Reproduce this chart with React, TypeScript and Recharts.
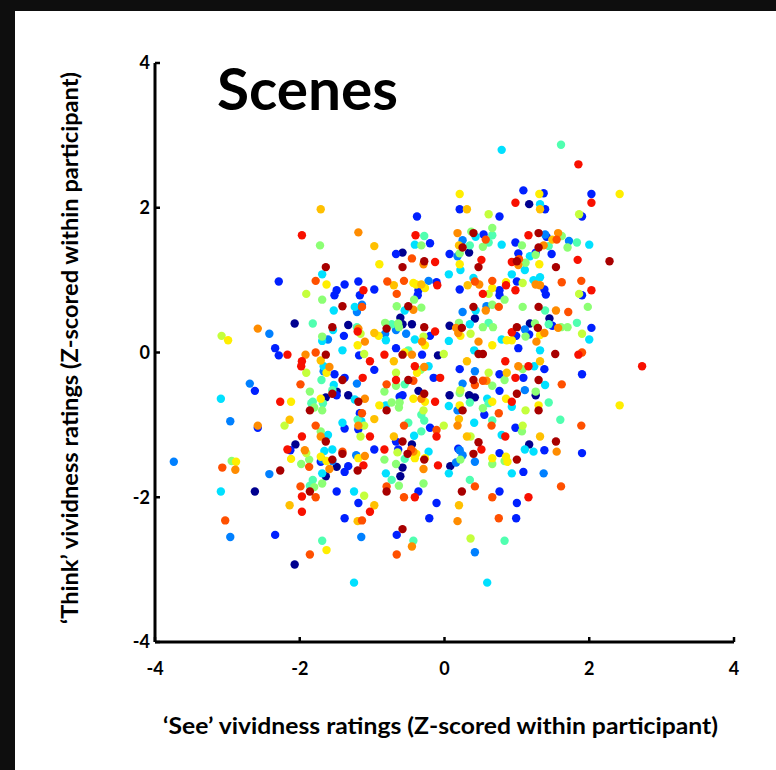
import React from 'react';
import { ScatterChart, Scatter, XAxis, YAxis, Label } from 'recharts';

const xTicks = [-4, -2, 0, 2, 4];
const yTicks = [-4, -2, 0, 2, 4];
const titleText = 'Scenes';
const xLabelText = '\u2018See\u2019 vividness ratings (Z-scored within participant)';
const yLabelText = '\u2018Think\u2019 vividness ratings (Z-scored within participant)';

const navy: number[][] = [
  [-0.58, 1.38], [-0.61, 0.48], [-2.07, 0.4], [-1.33, 0.38], [-0.58, 0.39], [-0.45, 0.39], [-0.09, -0.04],
  [1.17, 2.05], [0.34, 1.38], [0.42, 0.47], [1.45, 0.47], [0.07, 0.37], [1.18, 0.4],
  [-1.49, -0.54], [-1.64, -0.62], [-1.33, -0.59], [-0.36, -0.53], [-0.45, -1.27], [-2.06, -1.27], [-1.49, -1.58],
  [-0.58, -1.59], [-1.64, -1.71], [-0.61, -1.71],
  [0.07, -0.59], [0.34, -0.59], [0.42, -0.62], [1.26, -0.59], [1.17, -1.27], [0.08, -1.57],
  [-2.62, -1.92], [-2.07, -2.93],
];

const blue: number[][] = [
  [-0.38, 1.88], [-0.2, 1.51], [-0.67, 1.36], [-2.29, 0.98], [-1.38, 0.94], [-1.19, 0.98], [-0.11, 0.97],
  [-0.36, 0.86], [-0.37, 0.79], [-0.97, 0.87], [-1.49, 0.86], [-1.52, 0.79], [-1.17, 0.79], [-1.39, 0.23],
  [-0.2, 0.23], [-2.34, 0.06], [-0.67, 0.06], [-2.29, -0.04], [-1.18, -0.04], [-0.31, -0.03],
  [1.39, 1.98], [0.21, 1.98], [0.76, 1.88], [1.9, 1.88], [0.54, 1.63], [0.98, 1.52], [1.41, 1.6], [0.07, 1.36],
  [1.02, 1.37], [1.26, 1.38], [1.48, 1.36], [1.0, 0.98], [0.21, 0.87], [0.76, 0.86], [1.38, 0.87], [1.4, 0.8],
  [1.9, 0.79], [0.76, 0.79], [1.49, 0.37], [2.03, 0.34], [0.99, 0.23], [1.17, 0.25], [1.02, 0.06],
  [-1.52, -0.3], [-0.97, -0.24], [-0.15, -0.35], [-1.38, -0.35], [-1.49, -0.59], [-0.62, -0.61], [-0.58, -0.59],
  [-1.17, -0.84], [-1.19, -1.06], [-1.38, -1.05], [-0.2, -1.04], [-0.67, -1.23], [-2.13, -1.35], [-0.97, -1.34],
  [-0.64, -1.34], [-1.71, -1.51], [-1.33, -1.57], [-1.38, -1.65], [-0.36, -1.92], [-1.49, -1.92], [-1.19, -2.08],
  [-0.11, -2.08], [-1.38, -2.29], [-0.21, -2.29],
  [1.38, -0.23], [0.21, -0.23], [0.76, -0.3], [1.09, -0.35], [1.9, -0.3], [0.76, -0.53], [0.55, -0.86],
  [0.98, -1.04], [1.38, -1.35], [1.9, -1.39], [0.19, -1.33], [0.76, -1.39], [1.09, -1.65], [0.76, -1.92],
  [1.0, -2.08], [0.99, -2.29],
  [1.09, 2.24], [1.37, 2.2], [2.03, 2.19], [-2.62, -0.53], [-2.58, -1.04], [-2.34, -2.52], [-0.66, -2.52],
];

const azure: number[][] = [
  [-0.22, 0.99], [-1.14, 0.66], [-1.21, 0.56], [-2.42, 0.26], [-0.82, 0.26], [-0.67, 0.31], [-0.53, 0.26], [-1.61, 0.18],
  [0.25, 1.55], [1.39, 1.63], [1.72, 1.54], [0.18, 1.33], [0.58, 0.64], [0.25, 0.56], [1.11, 0.32],
  [-1.67, -0.26], [-1.21, -0.43], [-1.22, -1.42], [-1.69, -1.48], [-1.55, -1.5], [-2.42, -1.68],
  [0.42, -0.26], [0.25, -0.43], [1.11, -0.52], [0.18, -0.8], [0.21, -1.35], [0.25, -1.42], [0.16, -1.52],
  [0.42, -1.51], [1.37, -1.67],
  [0.42, -2.76], [-2.69, -0.43], [-2.96, -0.95], [-3.74, -1.51], [-2.96, -2.55], [-1.15, -2.55],
];

const cyan: number[][] = [
  [-0.41, 1.49], [-1.69, 1.08], [-1.24, 0.63], [-1.53, 0.58], [-0.55, 0.58], [-1.54, 0.31], [-1.69, 0.16],
  [-0.81, 0.17], [-0.41, 0.18], [-1.41, 0.03],
  [1.32, 2.05], [0.43, 1.6], [0.79, 1.49], [2.0, 1.49], [1.18, 1.33], [0.22, 1.14], [1.11, 1.14], [0.06, 1.08],
  [0.93, 1.08], [0.4, 1.03], [1.23, 1.0], [1.32, 1.04], [0.43, 0.58], [0.35, 0.39], [0.06, 0.16], [0.79, 0.18],
  [2.0, 0.18], [0.41, 0.03], [1.32, 0.03],
  [-1.67, -0.19], [-0.22, -0.19], [-1.53, -0.45], [-1.24, -0.65], [-0.81, -0.73], [-1.15, -0.95], [-1.41, -0.97],
  [-1.61, -1.14], [-0.42, -1.15], [-1.66, -1.36], [-1.55, -1.34], [-0.22, -1.37], [-1.69, -1.67], [-0.81, -1.67],
  [-1.25, -1.92],
  [1.24, -0.19], [1.39, -0.45], [0.59, -0.64], [0.06, -0.74], [0.93, -0.75], [0.41, -0.97], [0.79, -1.14],
  [1.11, -1.34], [1.23, -1.37], [0.06, -1.67], [0.93, -1.67],
  [0.79, 2.8], [0.59, -3.18], [-3.09, -0.64], [-3.09, -1.92], [-1.25, -3.18],
];

const aqua: number[][] = [
  [-0.28, 1.61], [-1.82, 0.4], [-1.21, 0.35], [-0.73, 0.39], [-0.5, 0.03],
  [0.66, 1.62], [0.61, 1.52], [0.35, 1.48], [1.44, 1.47], [1.83, 1.52], [1.39, 0.58], [0.61, 0.41], [1.44, 0.39], [1.83, 0.41],
  [-1.7, -0.38], [-0.55, -0.44], [-1.55, -0.52], [-1.82, -0.68], [-1.84, -0.7], [-1.68, -0.7], [-0.32, -0.86],
  [-0.28, -0.94], [-1.2, -0.93], [-0.5, -0.97], [-0.32, -1.09], [-0.55, -1.47], [-1.82, -1.76], [-1.86, -1.84], [-0.73, -1.76],
  [0.35, -0.69], [0.61, -0.7], [1.44, -0.69], [0.66, -0.94], [1.6, -0.93], [0.35, -1.76],
  [1.61, 2.87], [-0.43, -2.6], [0.83, -2.6], [-1.69, -2.6],
];

const lightGreen: number[][] = [
  [-1.72, 1.48], [-0.32, 1.48], [-1.69, 0.73], [-0.42, 0.73], [-0.66, 0.64], [-0.32, 0.62], [-0.82, 0.41],
  [-0.64, 0.4], [-1.69, 0.22], [-0.63, 0.35],
  [0.66, 1.72], [0.37, 1.67], [0.53, 1.46], [1.62, 1.61], [1.07, 1.48], [1.7, 1.45], [0.21, 1.37], [1.26, 1.35],
  [1.12, 1.24], [0.83, 0.73], [0.66, 0.66], [1.08, 0.63], [1.98, 0.63], [0.2, 0.41], [0.53, 0.35], [0.67, 0.35],
  [1.25, 0.4], [1.61, 0.35], [1.7, 0.35], [1.12, 0.22],
  [-0.33, -0.24], [-0.67, -0.46], [-1.86, -0.54], [-0.83, -0.54], [-1.8, -0.76], [-1.69, -0.8], [-0.73, -0.69],
  [-0.62, -0.69], [-0.63, -0.76], [-1.71, -1.09], [-1.87, -1.48], [-0.83, -1.48], [-1.98, -1.54], [-0.67, -1.54],
  [-1.8, -1.86], [-1.69, -1.81], [-0.63, -1.84], [-0.29, -1.81],
  [1.08, -0.23], [0.66, -0.46], [0.83, -0.38], [0.21, -0.56], [1.26, -0.54], [0.53, -0.77], [1.07, -1.09],
  [0.22, -1.48], [0.66, -1.54], [0.83, -1.5],
  [-2.94, -1.5],
];

const yellowGreen: number[][] = [
  [-1.91, 0.81], [-1.16, 0.26], [-0.29, 0.22], [-1.11, -0.02],
  [0.61, 1.91], [1.86, 1.91], [1.08, 0.96], [0.61, 0.81], [1.86, 0.81], [0.36, 0.26], [1.9, 0.26], [-0.01, -0.02],
  [-1.91, -0.28], [-0.67, -0.28], [-0.29, -0.8], [-1.11, -1.01], [-2.21, -1.01], [-1.16, -1.16], [-1.91, -1.39],
  [-0.65, -1.38], [-1.11, -1.98],
  [0.61, -0.28], [0.22, -0.52], [1.12, -0.8], [-0.01, -1.01], [1.08, -1.01], [0.36, -1.16],
  [-3.08, 0.23], [0.36, -2.57],
];

const yellow: number[][] = [
  [-0.9, 1.22], [-1.63, 0.94], [-0.43, 0.96], [-0.39, 0.94], [-0.27, 0.89], [-0.91, 0.23], [-1.2, 0.1],
  [-0.27, 0.1], [-0.55, 0.0],
  [1.31, 1.22], [0.21, 1.22], [0.85, 0.97], [0.66, 0.89], [0.22, 0.23], [1.32, 0.24], [0.86, 0.17], [0.93, 0.17], [0.66, 0.1],
  [-1.63, -0.28], [-0.38, -0.28], [-1.71, -0.64], [-2.12, -0.68], [-0.9, -0.73], [-0.43, -0.64], [-0.27, -0.68],
  [-1.19, -1.46], [-0.39, -1.4], [-0.41, -1.46], [-0.27, -1.46], [-2.12, -1.47], [-1.71, -1.44], [-1.63, -1.5],
  [0.66, -0.68], [0.85, -0.64], [0.21, -0.73], [1.3, -0.73], [0.66, -1.46], [0.85, -1.44], [0.87, -1.51],
  [-2.99, 0.17], [0.21, 2.19], [1.31, 2.19], [2.42, 2.19], [2.42, -0.73], [-2.88, -1.51], [-1.63, -2.73],
];

const amber: number[][] = [
  [-1.71, 1.98], [-0.97, 1.47], [-0.7, 0.93], [-0.32, 0.94], [-0.97, 0.27],
  [1.32, 1.98], [0.31, 1.98], [0.2, 1.48], [1.49, 1.56], [0.32, 0.93],
  [-1.71, -0.11], [-0.7, -0.12], [-0.97, -0.92], [-2.14, -0.93], [-0.7, -1.16], [-0.97, -2.11], [-2.14, -2.11],
  [0.31, -0.12], [1.32, -0.12], [0.86, -0.28], [0.2, -0.92], [0.31, -1.16], [1.32, -1.16], [0.2, -2.11],
  [-1.2, -2.33],
];

const orange: number[][] = [
  [-1.19, 1.66], [-0.29, 1.22], [-0.43, 0.59], [-1.19, 0.33], [-0.31, 0.15], [-1.1, 0.15], [-1.92, -0.03], [-0.45, -0.03],
  [0.18, 1.65], [1.57, 1.65], [1.37, 1.48], [1.02, 1.21], [0.48, 0.94], [1.26, 0.94], [1.32, 0.93], [0.57, 0.58],
  [1.54, 0.58], [0.16, 0.34], [1.57, 0.34], [0.19, 0.27], [1.38, 0.27], [0.47, 0.15], [1.27, 0.15],
  [-1.59, -0.2], [-0.28, -0.2], [-1.1, -0.64], [-0.32, -0.64], [-1.19, -1.01], [-1.71, -1.16], [-1.93, -1.35],
  [-1.1, -1.43], [-0.43, -1.37], [-1.59, -1.61], [-0.29, -1.61],
  [1.02, -0.19], [0.58, -0.39], [0.18, -1.01], [1.55, -1.37],
  [-2.58, 0.33], [0.18, -2.33], [-0.45, -2.68], [-2.58, -1.01], [-2.89, -1.62],
];

const orangeRed: number[][] = [
  [-0.45, 1.3], [-1.78, 0.99], [-0.79, 0.98], [-0.56, 0.99], [-0.66, 0.81], [-1.14, 0.63], [-1.78, 0.0],
  [0.57, 1.56], [1.55, 1.56], [1.03, 1.29], [0.42, 0.98], [0.66, 0.99], [1.62, 0.97], [1.89, 0.99], [0.75, 0.63],
  [1.71, 0.56], [1.9, 0.0],
  [-1.99, -0.44], [-0.8, -0.44], [-0.43, -0.39], [-1.14, -0.84], [-1.78, -1.01], [-0.56, -1.01], [-0.11, -1.07],
  [-1.41, -1.37], [-0.46, -1.34], [-1.87, -1.58], [-1.99, -1.85], [-0.8, -1.85], [-1.78, -2.0], [-0.56, -2.0],
  [0.53, -0.39], [0.42, -0.45], [1.62, -0.44], [0.75, -0.84], [0.65, -1.01], [1.89, -1.01], [0.42, -1.85],
  [1.61, -1.85], [0.66, -2.0], [0.75, -2.29],
  [-3.07, -1.59], [-3.03, -2.32], [-1.14, -2.32], [-1.86, -2.79], [-0.66, -2.79],
];

const red: number[][] = [
  [-1.97, 1.62], [-0.4, 1.62], [-0.13, 1.25], [-0.1, 0.93], [-1.12, 0.86], [-1.2, 0.29], [-0.13, 0.29],
  [-2.17, -0.03], [-0.83, -0.03],
  [0.98, 2.07], [2.03, 2.07], [1.16, 1.62], [0.51, 1.28], [0.93, 1.25], [1.84, 1.28], [0.85, 0.93], [0.53, 0.81],
  [0.98, 0.86], [2.03, 0.86], [0.93, 0.28], [1.85, -0.03],
  [-1.97, -0.12], [-1.03, -0.12], [-1.98, -0.19], [-0.41, -0.19], [-1.13, -0.35], [-0.67, -0.38], [-2.27, -0.68],
  [-0.13, -0.68], [-1.97, -1.16], [-1.03, -1.16], [-0.11, -1.16], [-2.17, -1.34], [-0.83, -1.34], [-1.12, -1.56],
  [-0.09, -1.56], [-1.97, -1.99], [-0.41, -2.0], [-1.97, -2.2], [-1.03, -2.2],
  [0.84, -0.12], [1.16, -0.19], [-0.06, -0.35], [0.98, -0.35], [0.93, -0.68], [0.84, -1.16], [0.51, -1.34], [1.16, -2.0],
  [1.85, 2.6], [2.73, -0.19],
];

const darkRed: number[][] = [
  [-0.28, 1.26], [-1.64, 1.18], [-0.58, 1.18], [-1.41, 0.64], [-0.5, 0.64], [-1.55, 0.35], [-0.8, 0.33],
  [-0.28, 0.35], [-1.64, -0.03], [-0.58, -0.03],
  [0.4, 1.65], [0.25, 1.45], [1.3, 1.65], [1.3, 1.45], [1.0, 1.26], [2.28, 1.26], [0.47, 1.18], [1.54, 1.18],
  [0.4, 0.63], [1.3, 0.63], [0.24, 0.34], [1.0, 0.35], [1.29, 0.34], [0.47, -0.02], [0.53, -0.02], [1.53, -0.02],
  [-1.41, -0.38], [-0.5, -0.38], [-1.55, -0.57], [-0.28, -0.57], [-1.86, -0.8], [-1.19, -0.68], [-0.8, -0.8],
  [-1.64, -1.23], [-0.58, -1.23], [-1.55, -1.48], [-1.41, -1.4], [-0.51, -1.4], [-0.28, -1.48], [-1.2, -1.63],
  [-2.27, -1.63], [-1.86, -1.92], [-0.8, -1.92],
  [0.4, -0.38], [1.3, -0.38], [1.0, -0.57], [0.25, -0.8], [1.3, -0.8], [0.47, -1.24], [1.54, -1.23],
  [0.4, -1.4], [1.0, -1.48], [0.24, -1.92],
  [-0.58, -2.44],
];

const seriesList = [
  { name: 'p1', color: '#00008F', pts: navy },
  { name: 'p2', color: '#0020FF', pts: blue },
  { name: 'p3', color: '#0080FF', pts: azure },
  { name: 'p4', color: '#00E0FF', pts: cyan },
  { name: 'p5', color: '#50FFB0', pts: aqua },
  { name: 'p6', color: '#8CFF74', pts: lightGreen },
  { name: 'p7', color: '#C4FF3C', pts: yellowGreen },
  { name: 'p8', color: '#FFEE00', pts: yellow },
  { name: 'p9', color: '#FFC000', pts: amber },
  { name: 'p10', color: '#FF8C00', pts: orange },
  { name: 'p11', color: '#FF5000', pts: orangeRed },
  { name: 'p12', color: '#F81000', pts: red },
  { name: 'p13', color: '#A80000', pts: darkRed },
];

const FONT = 'Lato, "Open Sans", sans-serif';

const makeDot = (color: string) => (props: any) => {
  const { cx, cy } = props;
  if (cx == null || cy == null) return <g />;
  return <circle cx={cx} cy={cy} r={4.2} fill={color} />;
};

export default function App() {
  return (
    <div style={{ position: 'fixed', left: 0, top: 0, width: 776, height: 770, background: '#ffffff', overflow: 'hidden' }}>
      <style>{'html,body{margin:0;padding:0;overflow:hidden;background:#ffffff;}'}</style>
      <div style={{ position: 'absolute', left: 0, top: 0, width: 15, height: 770, background: '#0e0e0e' }} />
      <div style={{ position: 'absolute', left: 0, top: 0, width: 776, height: 11, background: '#0e0e0e' }} />
      <div style={{ position: 'absolute', left: 0, top: 0 }}>
        <ScatterChart width={776} height={770} margin={{ top: 63, right: 42, bottom: 98, left: 95 }}>
          <XAxis
            type="number"
            dataKey="x"
            domain={[-4, 4]}
            ticks={xTicks}
            interval={0}
            height={30}
            axisLine={{ stroke: '#000', strokeWidth: 3 }}
            tickLine={{ stroke: '#000', strokeWidth: 2.5 }}
            tickSize={-5}
            tickMargin={25}
            tick={{ fill: '#000', fontSize: 18, fontWeight: 700, fontFamily: FONT }}
          >
            <Label
              content={() => (
                <text x={440.5} y={734} textAnchor="middle" fontSize={22} fontWeight={700} fontFamily={FONT} fill="#000" textLength={555} lengthAdjust="spacingAndGlyphs">
                  {xLabelText}
                </text>
              )}
            />
          </XAxis>
          <YAxis
            type="number"
            dataKey="y"
            domain={[-4, 4]}
            ticks={yTicks}
            interval={0}
            width={60}
            axisLine={{ stroke: '#000', strokeWidth: 3 }}
            tickLine={{ stroke: '#000', strokeWidth: 2.5 }}
            tickSize={-5}
            tickMargin={10}
            tick={{ fill: '#000', fontSize: 18, fontWeight: 700, fontFamily: FONT }}
          >
            <Label
              content={() => (
                <text x={78} y={348} transform="rotate(-90 78 348)" textAnchor="middle" fontSize={22} fontWeight={700} fontFamily={FONT} fill="#000" textLength={552} lengthAdjust="spacingAndGlyphs">
                  {yLabelText}
                </text>
              )}
            />
          </YAxis>
          {seriesList.map((s) => (
            <Scatter
              key={s.name}
              name={s.name}
              data={s.pts.map(([x, y]) => ({ x, y }))}
              fill={s.color}
              shape={makeDot(s.color)}
              isAnimationActive={false}
            />
          ))}
        </ScatterChart>
      </div>
      <svg style={{ position: 'absolute', left: 0, top: 0 }} width={776} height={770} pointerEvents="none">
        <text x={217} y={110} fontSize={57} fontWeight={700} fontFamily={FONT} fill="#000" textLength={181} lengthAdjust="spacingAndGlyphs">
          {titleText}
        </text>
      </svg>
    </div>
  );
}
